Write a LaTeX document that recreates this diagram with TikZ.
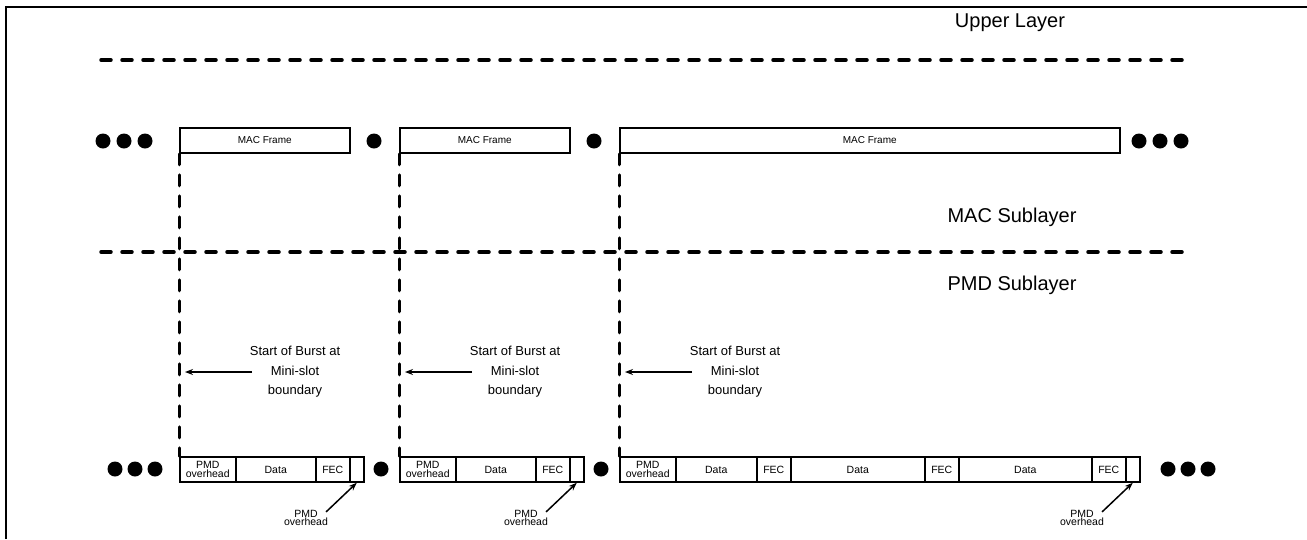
\documentclass[tikz,border=0pt]{standalone}
\usepackage{fontspec}
\setmainfont{Liberation Sans}
\usetikzlibrary{arrows.meta}

\tikzset{
	layerline/.style={line width=3.5pt, dash pattern=on 10pt off 11pt, line cap=round},
	burstline/.style={line width=3pt, dash pattern=on 11pt off 10pt, line cap=round},
	macbox/.style={draw, line width=1.5pt, minimum height=25pt, inner sep=0pt, anchor=west, font=\fontsize{10}{10}\selectfont},
	cell/.style={draw, line width=1.5pt, minimum height=25pt, inner sep=0pt, anchor=west, align=center, font=\fontsize{10.5}{8.5}\selectfont},
	dot/.style={circle, fill, inner sep=0pt, minimum size=15pt},
	layerlabel/.style={font=\fontsize{20}{24}\selectfont},
	burstlabel/.style={align=center, inner sep=0pt, font=\fontsize{13}{19.5}\selectfont},
	ovlabel/.style={align=center, inner sep=0pt, font=\fontsize{10.5}{8.5}\selectfont},
	pointer/.style={line width=1.5pt, -{Stealth[length=8pt,width=6pt]}},
}

\begin{document}
\begin{tikzpicture}[x=1pt, y=-1pt]
	\useasboundingbox (0,0) rectangle (1307,539);
	\draw[line width=2pt] (5.5,539) -- (5.5,6.5) -- (1307,6.5);

	% layers
	\node[layerlabel] (upper) at (1010,23) {Upper Layer};
	\node[layerlabel] (macsub) at (1012,217) {MAC Sublayer};
	\node[layerlabel] (pmdsub) at (1012,285) {PMD Sublayer};
	\draw[layerline] (101,60) -- (1183,60);
	\draw[layerline] (101,252) -- (1183,252);

	% MAC frames
	\foreach \n/\x/\w in {1/179/170, 2/399/170, 3/619/500}
		\node[macbox, minimum width=\w pt] (mac\n) at (\x,140.5) {MAC Frame};

	\foreach \n/\x in {a/103, b/124, c/145, d/374, e/594, f/1139, g/1160, h/1181}
		\node[dot] (mdot\n) at (\x,141) {};

	% PMD bursts
	\foreach \x/\w/\t/\n in {179/56/{PMD\\overhead}/ovh1, 235/80/Data/data1, 315/34/FEC/fec1, 349/14/{}/end1,
		399/56/{PMD\\overhead}/ovh2, 455/80/Data/data2, 535/34/FEC/fec2, 569/14/{}/end2,
		619/56/{PMD\\overhead}/ovh3, 675/81/Data/data3, 756/34/FEC/fec3, 790/134/Data/data4,
		924/34/FEC/fec4, 958/133/Data/data5, 1091/34/FEC/fec5, 1125/14/{}/end3}
		\node[cell, minimum width=\w pt] (\n) at (\x,469.5) {\t};

	\foreach \n/\x in {a/115, b/135, c/155, d/381, e/601, f/1168, g/1188, h/1208}
		\node[dot] (pdot\n) at (\x,469) {};

	% burst starts
	\foreach \n/\x in {1/179, 2/399, 3/619} {
		\draw[burstline] (mac\n.south west) -- (ovh\n.north west);
		\node[burstlabel] (burst\n) at (\x+116,372) {Start of Burst at\\Mini-slot\\boundary};
		\coordinate (tip\n) at (\x+6,372);
		\draw[pointer] (\x+73,372) -- (tip\n);
	}

	% trailing overhead
	\foreach \n/\x in {1/306, 2/526, 3/1082} {
		\node[ovlabel] (ovlab\n) at (\x,518) {PMD\\overhead};
		\draw[pointer] ([xshift=-2pt,yshift=-2pt]ovlab\n.north east) -- (end\n.south);
	}
\end{tikzpicture}
\end{document}
